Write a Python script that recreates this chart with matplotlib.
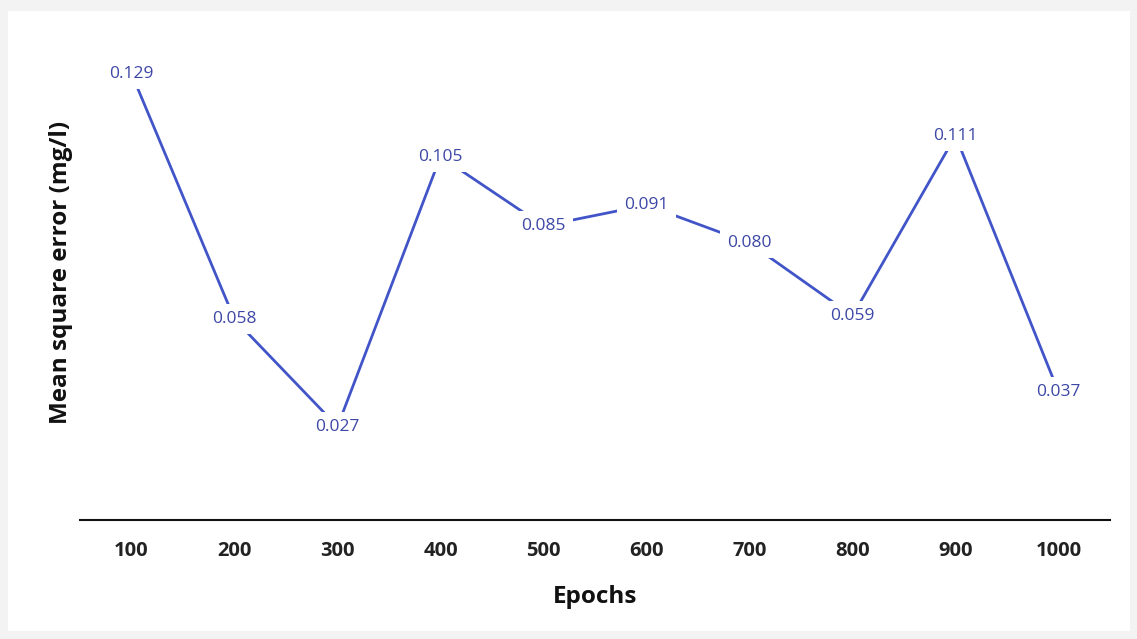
import matplotlib
matplotlib.use('Agg')
import matplotlib.pyplot as plt
from matplotlib.patches import Rectangle

epochs = ['100', '200', '300', '400', '500', '600', '700', '800', '900', '1000']
mse = [0.129, 0.058, 0.027, 0.105, 0.085, 0.091, 0.080, 0.059, 0.111, 0.037]
mse_labels = ['0.129', '0.058', '0.027', '0.105', '0.085',
              '0.091', '0.080', '0.059', '0.111', '0.037']

LINE = '#4255c8'
TEXT = '#3c47a6'
FONT = ['Open Sans', 'DejaVu Sans']

fig = plt.figure(figsize=(11.37, 6.39), dpi=100)
fig.patch.set_facecolor('#f3f3f3')
# white panel behind the chart
fig.patches.append(Rectangle((8 / 1137, 8 / 639), 1122 / 1137, 620 / 639,
                             transform=fig.transFigure, facecolor='white',
                             edgecolor='none', zorder=-5))

ax = fig.add_axes([80 / 1137, 1 - 520 / 639, 1030 / 1137, (520 - 35.5) / 639])
ax.set_facecolor('none')
ax.set_zorder(2)

x = list(range(len(epochs)))
ax.plot(x, mse, color=LINE, lw=2.0, zorder=2)
for xi, yi, lab in zip(x, mse, mse_labels):
    ax.text(xi, yi, lab, ha='center', va='center', fontsize=12.5,
            color=TEXT, family=FONT, zorder=3,
            bbox=dict(boxstyle='square,pad=0.4', fc='white', ec='none'))

ax.set_xlim(-0.5, 9.5)
ax.set_ylim(0, 0.14)
ax.set_xticks(x)
ax.set_xticklabels(epochs, fontsize=14.5, fontweight='bold', family=FONT,
                   color='#222222')
ax.tick_params(axis='x', length=0, pad=15)
ax.set_yticks([])
for side in ['top', 'right', 'left']:
    ax.spines[side].set_visible(False)
ax.spines['bottom'].set_linewidth(1.5)
ax.spines['bottom'].set_color('#111111')

fig.text(595 / 1137, 1 - 597 / 639, 'Epochs', ha='center', va='center',
         fontsize=17.5, fontweight='bold', family=FONT, color='#111111')
fig.text(61 / 1137, 1 - 272 / 639, 'Mean square error (mg/l)', ha='center',
         va='center', rotation=90, fontsize=17.5, fontweight='bold',
         family=FONT, color='#111111')

fig.savefig('out.png', dpi=100, facecolor=fig.get_facecolor())
